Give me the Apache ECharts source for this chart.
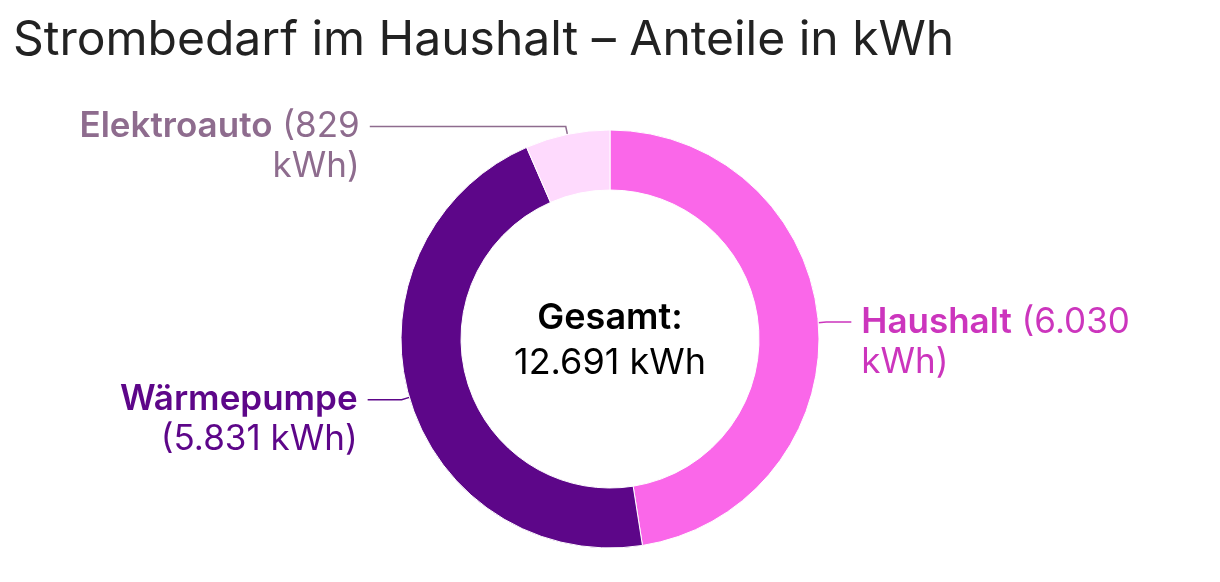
<!DOCTYPE html>
<html>
<head>
<meta charset="utf-8">
<script src="https://cdn.jsdelivr.net/npm/echarts@6/dist/echarts.min.js"></script>
<style>
  html, body { margin: 0; padding: 0; background: #fff; }
  #chart { width: 1220px; height: 582px; }
</style>
</head>
<body>
<div id="chart"></div>
<script>
// data
var categories = ['Haushalt', 'Wärmepumpe', 'Elektroauto'];
var values = [6030, 5831, 829];
var sliceColors = ['#fa67e9', '#5d0689', '#fedafd'];
var labelColors = ['#cc35bd', '#5d0689', '#8e6c8e'];
var totalKwh = 12691; // as printed in the centre

// how far each leader line runs sideways
var leaderLen2 = [25, 34, 196];

var LABEL_SIZE = 35;
var LABEL_LH = 40;
var LABEL_WRAP = 290;

// German thousands separator
function fmt(n) {
  return String(n).replace(/\B(?=(\d{3})+(?!\d))/g, '.');
}

// word wrap for a "bold name + regular value" label, measured on a canvas
var ctx = document.createElement('canvas').getContext('2d');
function wrapLabel(name, rest) {
  var words = [];
  name.split(' ').forEach(function (w) { words.push({ t: w, s: 'b' }); });
  rest.split(' ').forEach(function (w) { words.push({ t: w, s: 'n' }); });
  var lines = [[]], width = 0;
  words.forEach(function (w) {
    ctx.font = (w.s === 'b' ? '600 ' : '400 ') + LABEL_SIZE + 'px Inter';
    var ww = ctx.measureText((lines[lines.length - 1].length ? ' ' : '') + w.t).width;
    if (width + ww > LABEL_WRAP && lines[lines.length - 1].length) {
      lines.push([]);
      ww = ctx.measureText(w.t).width;
      width = 0;
    }
    lines[lines.length - 1].push(w);
    width += ww;
  });
  return lines.map(function (ln) {
    return ln.map(function (w, i) {
      return '{' + w.s + '|' + (i ? ' ' : '') + w.t + '}';
    }).join('');
  }).join('\n');
}

var chart = echarts.init(document.getElementById('chart'));

var pieData = categories.map(function (name, i) {
  var rs = { color: labelColors[i], fontSize: LABEL_SIZE, lineHeight: LABEL_LH, fontFamily: 'Inter' };
  return {
    name: name,
    value: values[i],
    itemStyle: { color: sliceColors[i] },
    label: {
      rich: {
        b: Object.assign({ fontWeight: 600 }, rs),
        n: Object.assign({ fontWeight: 400 }, rs)
      }
    },
    labelLine: { length2: leaderLen2[i], lineStyle: { color: labelColors[i] } }
  };
});

var option = {
  animation: false,
  title: {
    text: 'Strombedarf im Haushalt – Anteile in kWh',
    left: 8,
    top: 12,
    textStyle: {
      fontFamily: 'Inter',
      fontSize: 48,
      fontWeight: 400,
      color: '#222'
    }
  },
  graphic: [{
    type: 'text',
    left: 'center',
    top: 300,
    style: {
      text: '{b|Gesamt:}\n{n|' + fmt(totalKwh) + ' kWh}',
      textAlign: 'center',
      rich: {
        b: { fontFamily: 'Inter', fontSize: 36, fontWeight: 600, color: '#222', lineHeight: 45, align: 'center' },
        n: { fontFamily: 'Inter', fontSize: 36, fontWeight: 400, color: '#222', lineHeight: 45, align: 'center' }
      }
    }
  }],
  series: [{
    type: 'pie',
    center: [610, 339],
    radius: [149, 209],
    startAngle: 90,
    clockwise: true,
    itemStyle: { borderColor: '#fff', borderWidth: 1 },
    label: {
      show: true,
      position: 'outside',
      alignTo: 'none',
      distanceToLabelLine: 10,
      padding: [LABEL_LH, 0, 0, 0],
      formatter: function (p) {
        return wrapLabel(p.name, '(' + fmt(p.value) + ' kWh)');
      }
    },
    labelLine: {
      show: true,
      length: 8,
      lineStyle: { width: 1.5 }
    },
    data: pieData
  }]
};

chart.setOption(option);
</script>
</body>
</html>
